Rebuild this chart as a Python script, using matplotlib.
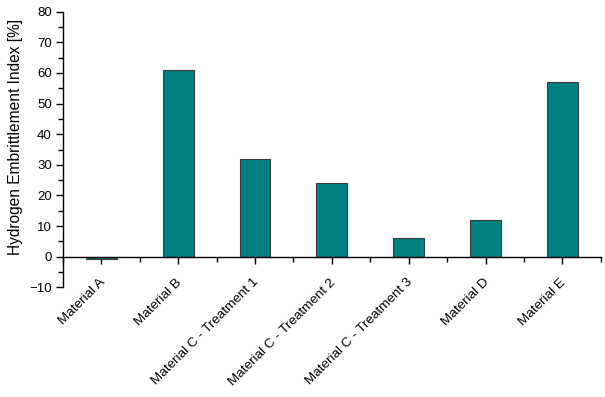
import matplotlib
matplotlib.use("Agg")
import matplotlib.pyplot as plt
import numpy as np
from matplotlib.ticker import MultipleLocator

plt.rcParams['font.family'] = ['Liberation Sans', 'DejaVu Sans']

categories = ['Material A', 'Material B', 'Material C - Treatment 1',
              'Material C - Treatment 2', 'Material C - Treatment 3',
              'Material D', 'Material E']
hei_values = [-0.7, 61, 32, 24, 6, 12, 57]
y_ticks = [-10, 0, 10, 20, 30, 40, 50, 60, 70, 80]

fig = plt.figure(figsize=(6.05, 3.97), dpi=100)
ax = fig.add_axes([0.104, 0.2763, 0.889, 0.6942])

x = np.arange(len(categories))
ax.bar(x, hei_values, width=0.4, color='#008080', edgecolor='#3a3a3a', linewidth=0.8, zorder=2)

ax.set_xlim(-0.5, 6.5)
ax.set_ylim(-10, 80)
ax.set_yticks(y_ticks)
ax.yaxis.set_minor_locator(MultipleLocator(5))
ax.set_xticks(x)
ax.set_xticks(np.arange(-0.5, 7, 1), minor=True)

# x axis line sits at zero, labels go under the plot
ax.spines['bottom'].set_position(('data', 0))
ax.spines['top'].set_visible(False)
ax.spines['right'].set_visible(False)
for s in ax.spines.values():
    s.set_linewidth(1.0)

ax.tick_params(axis='both', which='major', direction='out', length=5, width=1, labelsize=9.5, pad=3)
ax.tick_params(axis='both', which='minor', direction='out', length=3.5, width=1)
ax.set_xticklabels([])
for xi, lab in zip(x, categories):
    ax.text(xi + 0.08, 0.04, lab, transform=ax.get_xaxis_transform(),
            rotation=45, ha='right', va='top', fontsize=9.7)

ax.set_ylabel('Hydrogen Embrittlement Index [%]', fontsize=11.2)
ax.yaxis.set_label_coords(-0.074, 0.546)

fig.savefig('out.png', dpi=100)
